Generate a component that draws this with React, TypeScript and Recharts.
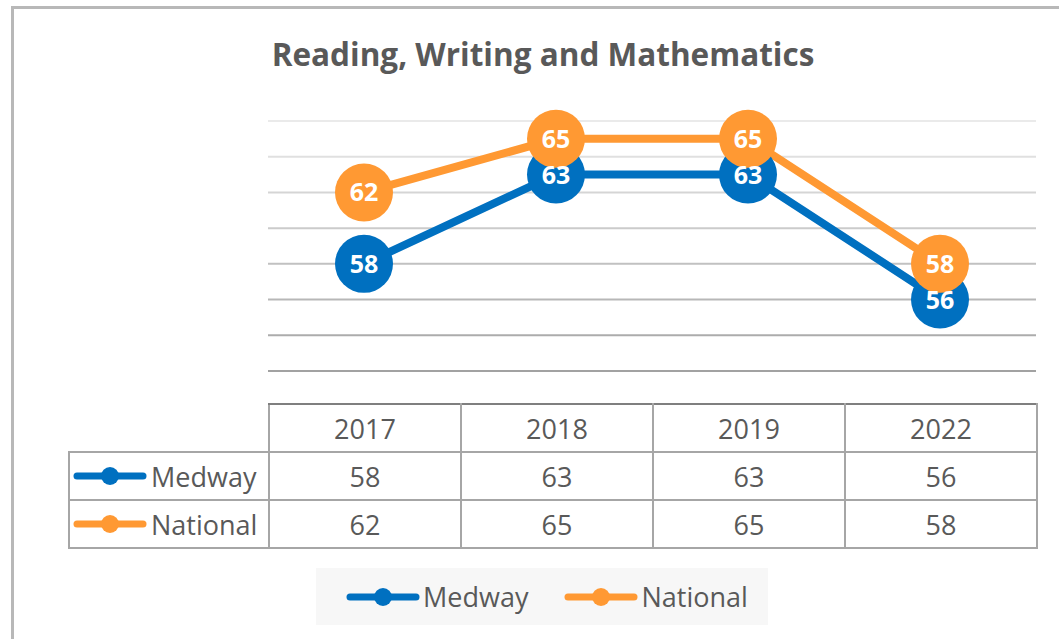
import { LineChart, Line, XAxis, YAxis, CartesianGrid, LabelList } from 'recharts';

const years = ['2017', '2018', '2019', '2022'];
const medway = [58, 63, 63, 56];
const national = [62, 65, 65, 58];
const yTicks = [52, 54, 56, 58, 60, 62, 64, 66];

const series = [
  { key: 'medway', name: 'Medway', values: medway, color: '#0070C0' },
  { key: 'national', name: 'National', values: national, color: '#FF9933' },
];

const data = years.map((year, i) => ({ year, medway: medway[i], national: national[i] }));

const FONT = '"Open Sans", Calibri, sans-serif';
const TEXT = '#595959';
const BORDER = '2px solid #a6a6a6';

// gridlines in the original fade from light at the top to darker at the bottom
function GridLine(props: any) {
  const { x1, x2, y1, y2 } = props;
  const top = props.y ?? 121;
  const h = props.height ?? 250;
  const t = Math.max(0, Math.min(1, (y1 - top) / h));
  const c = Math.round(234 - t * 72);
  return <line x1={x1} x2={x2} y1={y1} y2={y2} stroke={`rgb(${c},${c},${c})`} strokeWidth={2} />;
}

const renderValue = (props: any) => {
  const { x, y, value } = props;
  return (
    <text x={x} y={y} dy={9} textAnchor="middle" fill="#fff" fontSize={25} fontWeight={700} fontFamily={FONT}>
      {value}
    </text>
  );
};

function LegendIcon({ color }: { color: string }) {
  return (
    <svg width={74} height={20} style={{ display: 'block', flex: 'none' }}>
      <line x1={4} x2={70} y1={10} y2={10} stroke={color} strokeWidth={7} strokeLinecap="round" />
      <circle cx={37} cy={10} r={9} fill={color} />
    </svg>
  );
}

export default function App() {
  return (
    <div style={{ position: 'absolute', left: 0, top: 0, width: 1059, height: 639, background: '#fff', overflow: 'hidden', fontFamily: FONT }}>
      <div style={{ position: 'absolute', left: 11, top: 6, width: 1060, height: 650, border: '3px solid #b8b8b8' }} />

      <div style={{ position: 'absolute', left: 193, top: 38, width: 700, textAlign: 'center', fontSize: 31.5, lineHeight: '31px', fontWeight: 700, color: TEXT }}>
        Reading, Writing and Mathematics
      </div>

      <div style={{ position: 'absolute', left: 0, top: 0 }}>
        <LineChart width={1059} height={639} data={data} margin={{ top: 121, right: 23, left: 268, bottom: 268 }}>
          <CartesianGrid vertical={false} horizontal={(p: any) => <GridLine key={p.key ?? p.index} {...p} />} />
          <XAxis dataKey="year" hide padding={{ left: 96, right: 96 }} />
          <YAxis hide domain={[52, 66]} ticks={yTicks} type="number" />
          {series.map((s) => (
            <Line
              key={s.key}
              dataKey={s.key}
              name={s.name}
              stroke={s.color}
              strokeWidth={8}
              dot={{ r: 29, fill: s.color, stroke: s.color, strokeWidth: 0 }}
              activeDot={false}
              isAnimationActive={false}
            >
              <LabelList dataKey={s.key} content={renderValue} />
            </Line>
          ))}
        </LineChart>
      </div>

      <table
        style={{
          position: 'absolute', left: 68, top: 403, borderCollapse: 'collapse', tableLayout: 'fixed',
          width: 968, color: TEXT, fontSize: 27, fontFamily: FONT,
        }}
      >
        <colgroup>
          <col style={{ width: 200 }} />
          {years.map((y) => <col key={y} style={{ width: 192 }} />)}
        </colgroup>
        <tbody>
          <tr style={{ height: 48 }}>
            <td style={{ border: 'none', borderBottom: BORDER }} />
            {years.map((y) => (
              <td key={y} style={{ border: BORDER, borderTop: '2px solid #7f7f7f', textAlign: 'center', padding: 0 }}>{y}</td>
            ))}
          </tr>
          {series.map((s) => (
            <tr key={s.key} style={{ height: 48 }}>
              <td style={{ border: BORDER, padding: 0 }}>
                <div style={{ display: 'flex', alignItems: 'center', paddingLeft: 3 }}>
                  <LegendIcon color={s.color} />
                  <span style={{ marginLeft: 4 }}>{s.name}</span>
                </div>
              </td>
              {s.values.map((v, i) => (
                <td key={i} style={{ border: BORDER, textAlign: 'center', padding: 0 }}>{v}</td>
              ))}
            </tr>
          ))}
        </tbody>
      </table>

      <div
        style={{
          position: 'absolute', left: 316, top: 568, width: 452, height: 57, background: '#f7f7f7',
          display: 'flex', alignItems: 'center', fontSize: 27, color: TEXT,
        }}
      >
        {series.map((s, i) => (
          <div key={s.key} style={{ display: 'flex', alignItems: 'center', marginLeft: i === 0 ? 30 : 36 }}>
            <LegendIcon color={s.color} />
            <span style={{ marginLeft: 3 }}>{s.name}</span>
          </div>
        ))}
      </div>
    </div>
  );
}
